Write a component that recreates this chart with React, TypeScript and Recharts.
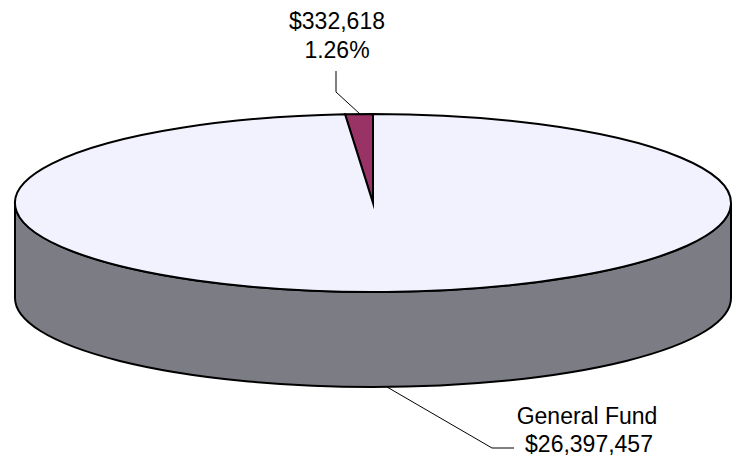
import { Pie, PieChart } from "recharts";

const funds = ["Other Funds", "General Fund"];
const amounts = [332618, 26397457];
const sliceColors = ["#993366", "#F2F2FF"];
const amountLabels = ["$332,618", "$26,397,457"];
const percentLabel = "1.26%";

const data = funds.map((name, i) => ({ name, value: amounts[i], fill: sliceColors[i] }));

const RX = 358;
const RY = 89;
const DEPTH = 95;
const CX = 373;
const CY = 203;
const FONT = "'Liberation Sans', Arial, sans-serif";

const RAD = Math.PI / 180;
const rim = (deg: number, dy = 0) =>
  `${CX + RX * Math.cos(deg * RAD)} ${CY + dy - RY * Math.sin(deg * RAD)}`;

// top face of the disc: the sector squashed into an ellipse
function FlatSlice({ startAngle, endAngle, fill }: any) {
  const large = Math.abs(endAngle - startAngle) > 180 ? 1 : 0;
  const d = `M ${CX} ${CY} L ${rim(startAngle)} A ${RX} ${RY} 0 ${large} 0 ${rim(endAngle)} Z`;
  return <path d={d} fill={fill} stroke="#000" strokeWidth={2} strokeMiterlimit={10} />;
}

// side wall, only the part of a slice that faces the viewer
function WallSlice({ startAngle, endAngle }: any) {
  const from = Math.max(startAngle, 180);
  const to = Math.min(endAngle, 360);
  if (to <= from) return null;
  const d =
    `M ${rim(from)} L ${rim(from, DEPTH)} A ${RX} ${RY} 0 0 0 ${rim(to, DEPTH)} ` +
    `L ${rim(to)} A ${RX} ${RY} 0 0 1 ${rim(from)} Z`;
  return <path d={d} fill="#7C7C84" stroke="#000" strokeWidth={2} strokeLinejoin="round" />;
}

function SliceLabel({ index }: any) {
  const text = { fontFamily: FONT, fontSize: 23, fill: "#000", textAnchor: "middle" as const };
  if (index === 0) {
    return (
      <g>
        <polyline points="336,71 336,92 360,114" fill="none" stroke="#000" strokeWidth={1} />
        <text x={337} y={29} {...text}>{amountLabels[0]}</text>
        <text x={337} y={58} {...text}>{percentLabel}</text>
      </g>
    );
  }
  return (
    <g>
      <polyline points="387,387 492,448 514,448" fill="none" stroke="#000" strokeWidth={1} />
      <text x={587} y={424} {...text}>{funds[1]}</text>
      <text x={589} y={452} {...text}>{amountLabels[1]}</text>
    </g>
  );
}

export default function App() {
  return (
    <div style={{ position: "absolute", left: 0, top: 0, width: 740, height: 456, background: "#fff" }}>
      <PieChart width={740} height={456} margin={{ top: 0, right: 0, bottom: 0, left: 0 }}>
        <Pie
          data={data}
          dataKey="value"
          nameKey="name"
          cx={CX}
          cy={CY + DEPTH}
          outerRadius={RX}
          startAngle={90}
          endAngle={450}
          stroke="none"
          shape={WallSlice}
          isAnimationActive={false}
        />
        <Pie
          data={data}
          dataKey="value"
          nameKey="name"
          cx={CX}
          cy={CY}
          outerRadius={RX}
          startAngle={90}
          endAngle={450}
          shape={FlatSlice}
          label={SliceLabel}
          labelLine={false}
          isAnimationActive={false}
        />
      </PieChart>
    </div>
  );
}
